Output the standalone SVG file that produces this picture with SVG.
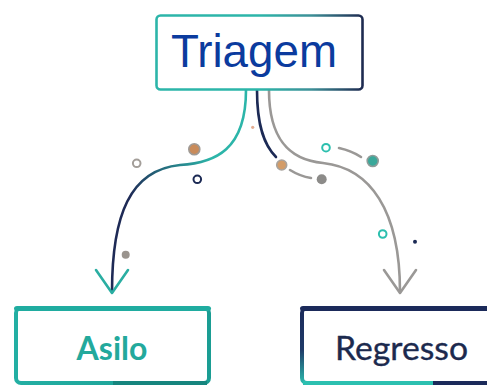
<svg xmlns="http://www.w3.org/2000/svg" width="487" height="385" viewBox="0 0 487 385">
<defs>
<linearGradient id="gTop" x1="156" y1="0" x2="363" y2="0" gradientUnits="userSpaceOnUse">
<stop offset="0" stop-color="#2cb5a9"/><stop offset="0.5" stop-color="#2cb5a9"/><stop offset="0.75" stop-color="#3d8f97"/><stop offset="1" stop-color="#1e2a50"/>
</linearGradient>
<linearGradient id="gLeft" x1="212" y1="160" x2="135" y2="205" gradientUnits="userSpaceOnUse">
<stop offset="0" stop-color="#2cb5a9"/><stop offset="1" stop-color="#1e2a56"/>
</linearGradient>
<linearGradient id="gAsilo" x1="14" y1="0" x2="211" y2="0" gradientUnits="userSpaceOnUse">
<stop offset="0" stop-color="#23afa3"/><stop offset="1" stop-color="#1a9d93"/>
</linearGradient>
<linearGradient id="gReg" x1="0" y1="306" x2="0" y2="385" gradientUnits="userSpaceOnUse">
<stop offset="0" stop-color="#1b2a5a"/><stop offset="0.55" stop-color="#1f3a68"/><stop offset="1" stop-color="#2cc0b0"/>
</linearGradient>
</defs>
<style>
.conn{fill:none;stroke-width:2.6;stroke-linecap:round;stroke-linejoin:round}
.lbl{font-family:Lato,"Liberation Sans",sans-serif;text-anchor:middle}
</style>
<rect width="487" height="385" fill="#ffffff"/>

<g id="connectors">
<path class="conn" d="M246,90 C246,150 215,163 180,165 C130,170 112,215 112,292" stroke="url(#gLeft)"/>
<path class="conn" d="M96,270 L112,293 L128,270" stroke="#2aaea2"/>
<path class="conn" d="M257,90 C257,128 265,146 276,157" stroke="#1c2a55"/>
<path class="conn" d="M269,90 C269,140 290,160 323,163 C370,168 400,210 400,292" stroke="#9a9896"/>
<path class="conn" d="M384,270 L400,293 L416,270" stroke="#9a9896"/>
<path class="conn" d="M290,170 C298,175 305,177 311,178" stroke="#9a9896"/>
<path class="conn" d="M339,148 C348,150 355,153 361,157" stroke="#9a9896"/>
</g>

<g id="dots">
<circle cx="252.7" cy="127.3" r="1.6" fill="#e3ac90"/>
<circle cx="194.3" cy="149.3" r="5.5" fill="#c98b5a" stroke="#9f9a95" stroke-width="1.6"/>
<circle cx="136.7" cy="163.3" r="3.8" fill="none" stroke="#a39e99" stroke-width="2"/>
<circle cx="197.3" cy="179.3" r="3.8" fill="none" stroke="#1c2a55" stroke-width="2"/>
<circle cx="125.7" cy="254.7" r="4" fill="#9a948e"/>
<circle cx="281.7" cy="165" r="5" fill="#d39c68" stroke="#a8a39e" stroke-width="1.6"/>
<circle cx="321.7" cy="179.3" r="5" fill="#8c8b89"/>
<circle cx="326" cy="147.7" r="3.8" fill="none" stroke="#2cbfae" stroke-width="2"/>
<circle cx="372.7" cy="161" r="5.5" fill="#3aa89a" stroke="#8f9c99" stroke-width="1.6"/>
<circle cx="382.7" cy="234" r="3.8" fill="none" stroke="#2cbfae" stroke-width="2"/>
<circle cx="415" cy="241.7" r="2" fill="#1c2a55"/>
</g>

<g id="triagem">
<rect x="156.5" y="15.5" width="206" height="74" rx="4" fill="#ffffff" stroke="url(#gTop)" stroke-width="2.6"/>
<text x="254" y="67" font-family="'Liberation Sans',Arial,sans-serif" font-size="46" fill="#0b3b9e" text-anchor="middle" textLength="166" lengthAdjust="spacingAndGlyphs">Triagem</text>
</g>

<g id="asilo">
<rect x="16" y="308" width="193" height="75" rx="5" fill="#ffffff" stroke="url(#gAsilo)" stroke-width="4"/>
<rect x="14" y="306" width="197" height="5" rx="3" fill="#20aca0"/>
<line x1="113" y1="383" x2="207" y2="383" stroke="#16857e" stroke-width="4"/>
<text class="lbl" x="112" y="360" font-size="32" font-weight="bold" fill="#23a99c">Asilo</text>
</g>

<g id="regresso">
<rect x="302" y="308" width="200" height="75" rx="5" fill="#ffffff" stroke="url(#gReg)" stroke-width="4"/>
<rect x="300" y="306" width="200" height="5" rx="3" fill="#1b2a5a"/>
<line x1="303" y1="383" x2="433" y2="383" stroke="#2cc0b0" stroke-width="4"/>
<line x1="433" y1="383" x2="487" y2="383" stroke="#1b2a5a" stroke-width="4"/>
<text class="lbl" x="401.5" y="360" font-size="32" fill="#1c2a4e" stroke="#1c2a4e" stroke-width="0.35" textLength="133" lengthAdjust="spacingAndGlyphs">Regresso</text>
</g>
</svg>
